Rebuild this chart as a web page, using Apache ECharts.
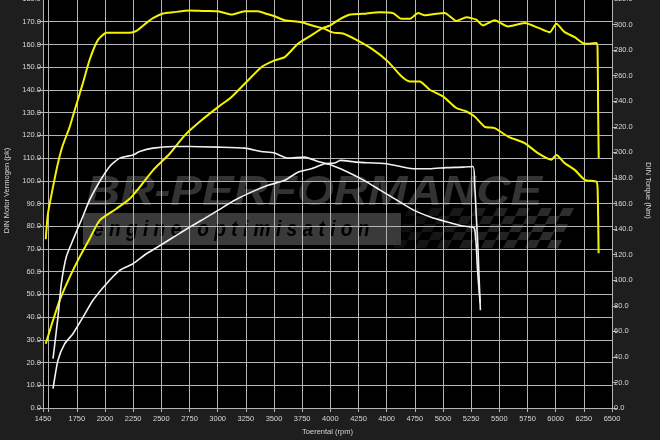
<!DOCTYPE html>
<html><head><meta charset="utf-8">
<script src="https://cdn.jsdelivr.net/npm/echarts@6/dist/echarts.min.js"></script>
<style>html,body{margin:0;padding:0;background:#1e1e1e}#c{width:660px;height:440px}</style>
</head><body><div id="c"></div>
<script>
// ---- axis ticks / labels ----
const rpmTicks = [1450,1500,1750,2000,2250,2500,2750,3000,3250,3500,3750,4000,4250,4500,4750,5000,5250,5500,5750,6000,6250,6500];
const rpmLabels = [1450,1750,2000,2250,2500,2750,3000,3250,3500,3750,4000,4250,4500,4750,5000,5250,5500,5750,6000,6250,6500];

// ---- tuned (yellow) ----
const tunedPowerRpm = [1474,1539,1598,1687,1776,1864,1953,2101,2220,2308,2426,2574,2708,2856,3003,3121,3240,3388,3506,3595,3713,3831,3920,4000,4089,4178,4290,4439,4556,4631,4705,4779,4838,4941,5015,5119,5208,5296,5355,5459,5577,5725,5843,5947,6006,6080,6169,6258,6362,6372,6377,6382];
const tunedPowerPk = [28.3,38.6,47.4,57.6,66.5,74.5,82.6,87.7,92.1,97.2,104.6,111.9,120,126.6,132.4,136.8,142.7,150,153,154.4,160.3,164,166.9,168.4,171.3,173.2,173.5,174.2,173.8,171.3,171.3,173.8,172.8,173.5,173.8,170.3,172,170.9,168.4,170.6,167.9,169.4,167.4,165.4,169.1,165.4,163.2,160.3,160.6,158,130,110];

const tunedTorqueRpm = [1474,1494,1539,1583,1622,1687,1731,1800,1864,1938,2013,2116,2220,2279,2368,2426,2515,2604,2752,2880,3003,3121,3240,3358,3430,3506,3595,3743,3861,3950,4000,4039,4113,4232,4379,4512,4631,4705,4793,4882,5000,5119,5208,5281,5370,5459,5577,5725,5843,5962,6006,6080,6169,6258,6362,6372,6377,6381];
const tunedTorqueNm = [132,152,173,191.6,204.6,220,233,253,272.5,288,293.5,293.5,293.5,295,301.3,305,308.6,309.6,311,310.6,310.4,307.8,310.4,310.4,308.5,306.5,303.4,301.8,298.7,296.6,294.5,293.5,293,288,280.4,271,259.5,255.5,255.5,249,243.8,234.7,232,228,220,219,212.4,207.3,199.4,194.2,198,191.6,186.3,178.5,177,172,150,121];

// ---- stock (white) ----
const stockPowerRpm = [1539,1583,1643,1716,1805,1894,2013,2131,2249,2368,2515,2634,2752,2856,3003,3151,3299,3447,3595,3713,3831,3950,4039,4089,4232,4498,4735,4882,5030,5178,5267,5281,5296,5311,5320,5332];
const stockPowerPk = [8.5,21,28.3,32.7,40,47.4,54.7,60.6,63.5,67.9,72.3,76,79.6,82.6,87,91.4,95,98,100.2,103.8,105.3,107.5,107.8,109,108.2,107.5,105.3,105.3,105.8,106,106.3,98.6,84,69.7,57.9,43];

const stockTorqueRpm = [1539,1583,1613,1657,1716,1790,1864,1953,2042,2131,2249,2308,2426,2604,2752,3003,3240,3388,3506,3624,3772,3891,4000,4143,4290,4439,4587,4735,4882,5030,5178,5267,5281,5296,5305,5320,5330];
const stockTorqueNm = [38.7,71.3,97.5,118.4,131.5,147,162.8,177.2,189,195.5,198,200.7,203.3,204.6,204.6,204.1,203.3,200.7,199.4,195.5,196.3,192.8,190.3,185,178.5,170.7,162.8,155,149.7,145.8,142.4,141.4,140,126,110,92,82];

const pair = (xs, ys) => xs.map((x, i) => [x, ys[i]]);

const labelColor = '#d6d6d6';
const gridColor = '#b4b4b4';
const fontFamily = '"Liberation Sans", Arial, sans-serif';

// watermark decoration
const wm = [];
wm.push({type:'text', x:86, y:172, scaleX:1.13, z:-1, silent:true,
  style:{text:'BR-PERFORMANCE', font:'italic bold 42px "Liberation Sans"', fill:'#333333', textVerticalAlign:'top'}});
wm.push({type:'rect', shape:{x:83, y:213, width:318, height:32}, z:-1, silent:true, style:{fill:'#3a3a3a'}});
wm.push({type:'text', x:93, y:230, scaleX:0.87, z:-1, silent:true,
  style:{text:'e n g i n e   o p t i m i s a t i o n', font:'italic bold 22px "Liberation Sans"', fill:'#000000', stroke:null, lineWidth:0, textVerticalAlign:'middle'}});
for (let r = 0; r < 5; r++) {
  for (let c = 0; c < 15; c++) {
    if ((r + c) % 2) continue;
    const x0 = 405 + c * 11 - r * 3, y0 = 208 + r * 8;
    wm.push({type:'polygon', z:-1, silent:true,
      shape:{points:[[x0+4,y0],[x0+15,y0],[x0+11,y0+8],[x0,y0+8]]},
      style:{fill:'#333333', opacity: 0.3 + 0.6 * c / 14}});
  }
}

const chart = echarts.init(document.getElementById('c'), null, {renderer:'canvas'});
chart.setOption({
  backgroundColor:'#1e1e1e',
  animation:false,
  textStyle:{fontFamily},
  grid:{left:43, right:48, top:-1, bottom:32, show:true, backgroundColor:'#000', borderWidth:0, z:-2, containLabel:false, outerBoundsMode:'none'},
  graphic:{elements:wm},
  xAxis:{
    type:'value', min:1450, max:6500, z:1,
    name:'Toerental (rpm)', nameLocation:'middle', nameGap:20,
    nameTextStyle:{color:labelColor, fontSize:7.5, fontFamily},
    axisLine:{show:true, lineStyle:{color:gridColor, width:1}},
    axisTick:{show:true, length:4, customValues:rpmTicks, lineStyle:{color:gridColor}},
    axisLabel:{customValues:rpmLabels, color:labelColor, fontSize:7.5, margin:7, fontFamily, formatter:v => String(v)},
    splitLine:{show:true, lineStyle:{color:gridColor, width:1}}
  },
  yAxis:[{
    type:'value', min:0, max:180, interval:10, position:'left', z:1,
    name:'DIN Motor Vermogen (pk)', nameLocation:'middle', nameRotate:90, nameGap:32,
    nameTextStyle:{color:labelColor, fontSize:7.5, fontFamily, padding:[0,0,0,26]},
    axisLine:{show:true, lineStyle:{color:gridColor}},
    axisTick:{show:true, length:5, lineStyle:{color:gridColor}},
    axisLabel:{color:labelColor, fontSize:7.5, margin:2, fontFamily, formatter:v => v.toFixed(1)},
    splitLine:{show:true, lineStyle:{color:gridColor, width:1}}
  },{
    type:'value', min:0, max:320, interval:20, position:'right', z:1,
    name:'DIN Torque (Nm)', nameLocation:'middle', nameRotate:-90, nameGap:31,
    nameTextStyle:{color:labelColor, fontSize:7.5, fontFamily, padding:[0,26,0,0]},
    axisLine:{show:false},
    axisTick:{show:true, length:5, lineStyle:{color:gridColor}},
    axisLabel:{color:labelColor, fontSize:7.5, margin:2, fontFamily, formatter:v => v.toFixed(1)},
    splitLine:{show:false}
  }],
  series:[
    {name:'Torque getuned', type:'line', yAxisIndex:1, data:pair(tunedTorqueRpm, tunedTorqueNm), showSymbol:false, smooth:0.2, lineStyle:{color:'#f4f400', width:2}, itemStyle:{color:'#f4f400'}, z:3},
    {name:'Vermogen getuned', type:'line', yAxisIndex:0, data:pair(tunedPowerRpm, tunedPowerPk), showSymbol:false, smooth:0.2, lineStyle:{color:'#f4f400', width:2}, itemStyle:{color:'#f4f400'}, z:3},
    {name:'Torque origineel', type:'line', yAxisIndex:1, data:pair(stockTorqueRpm, stockTorqueNm), showSymbol:false, smooth:0.2, lineStyle:{color:'#f2f2f2', width:1.6}, itemStyle:{color:'#f2f2f2'}, z:3},
    {name:'Vermogen origineel', type:'line', yAxisIndex:0, data:pair(stockPowerRpm, stockPowerPk), showSymbol:false, smooth:0.2, lineStyle:{color:'#f2f2f2', width:1.6}, itemStyle:{color:'#f2f2f2'}, z:3}
  ]
});
</script></body></html>
